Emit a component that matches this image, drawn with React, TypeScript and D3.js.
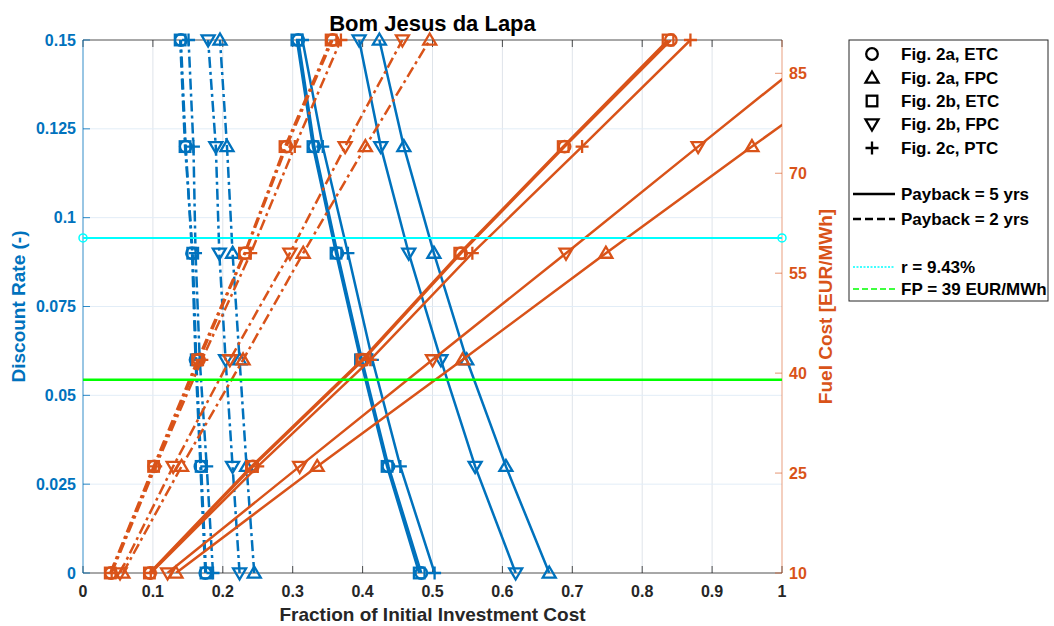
import * as d3 from "d3";

// discount rate (left axis) and fuel cost (right axis) levels
const discountRates = [0, 0.03, 0.06, 0.09, 0.12, 0.15];
const fuelCosts = [10, 26, 42, 58, 74, 90];

const seriesNames = ["Fig. 2a, ETC", "Fig. 2a, FPC", "Fig. 2b, ETC", "Fig. 2b, FPC", "Fig. 2c, PTC"];
const seriesMarkers = ["circle", "triUp", "square", "triDown", "plus"];

// fraction of investment cost vs discount rate
const rateP5_2aETC = [0.484, 0.437, 0.399, 0.364, 0.331, 0.308];
const rateP5_2aFPC = [0.667, 0.605, 0.549, 0.502, 0.459, 0.424];
const rateP5_2bETC = [0.481, 0.435, 0.397, 0.362, 0.329, 0.306];
const rateP5_2bFPC = [0.619, 0.561, 0.512, 0.466, 0.426, 0.395];
const rateP5_2cPTC = [0.503, 0.454, 0.414, 0.379, 0.343, 0.314];

const rateP2_2aETC = [0.175, 0.168, 0.161, 0.156, 0.147, 0.140];
const rateP2_2aFPC = [0.245, 0.234, 0.224, 0.214, 0.206, 0.196];
const rateP2_2bETC = [0.176, 0.169, 0.162, 0.157, 0.146, 0.139];
const rateP2_2bFPC = [0.224, 0.214, 0.204, 0.195, 0.190, 0.179];
const rateP2_2cPTC = [0.186, 0.177, 0.167, 0.161, 0.158, 0.151];

// fraction of investment cost vs fuel cost
const fuelP5_2aETC = [0.096, 0.243, 0.401, 0.541, 0.689, 0.841];
const fuelP5_2aFPC = [0.133, 0.335, 0.543, 0.748, 0.957, 1.17];
const fuelP5_2bETC = [0.095, 0.241, 0.399, 0.539, 0.687, 0.837];
const fuelP5_2bFPC = [0.121, 0.310, 0.500, 0.691, 0.880, 1.07];
const fuelP5_2cPTC = [0.097, 0.250, 0.411, 0.557, 0.714, 0.869];

const fuelP2_2aETC = [0.040, 0.102, 0.166, 0.232, 0.291, 0.357];
const fuelP2_2aFPC = [0.057, 0.141, 0.229, 0.315, 0.404, 0.496];
const fuelP2_2bETC = [0.039, 0.101, 0.164, 0.231, 0.289, 0.355];
const fuelP2_2bFPC = [0.053, 0.129, 0.210, 0.296, 0.375, 0.457];
const fuelP2_2cPTC = [0.041, 0.104, 0.170, 0.240, 0.303, 0.369];

const refRate = 0.0943;
const refFuel = 39;

const xTicks = d3.range(0, 1.0001, 0.1);
const leftTicks = [0, 0.025, 0.05, 0.075, 0.1, 0.125, 0.15];
const rightTicks = [10, 25, 40, 55, 70, 85];

const BLUE = "#0072BD";
const ORANGE = "#D95319";
const AXIS = "#262626";
const FONT = "'Liberation Sans', Arial, Helvetica, sans-serif";
const DASHDOT = "11,4,3,4";

const W = 1054;
const H = 626;
const L = 83, R = 782, T = 40, B = 573;

const x = d3.scaleLinear().domain([0, 1]).range([L, R]);
const yL = d3.scaleLinear().domain([0, 0.15]).range([B, T]);
const yR = d3.scaleLinear().domain([10, 90]).range([B, T]);

function Marker({ kind, cx, cy, color }: { kind: string; cx: number; cy: number; color: string }) {
  const s = 6.5;
  const common = { fill: "none", stroke: color, strokeWidth: 2.3 };
  if (kind === "circle") return <circle cx={cx} cy={cy} r={5.8} {...common} />;
  if (kind === "square") return <rect x={cx - 5.3} y={cy - 5.3} width={10.6} height={10.6} {...common} />;
  if (kind === "triUp")
    return <path d={`M${cx},${cy - s}L${cx + s},${cy + s * 0.7}L${cx - s},${cy + s * 0.7}Z`} {...common} />;
  if (kind === "triDown")
    return <path d={`M${cx},${cy + s}L${cx + s},${cy - s * 0.7}L${cx - s},${cy - s * 0.7}Z`} {...common} />;
  return <path d={`M${cx - s},${cy}H${cx + s}M${cx},${cy - s}V${cy + s}`} {...common} />;
}

const rateSeries = [
  { vals: rateP2_2aETC, p: 2, m: 0 }, { vals: rateP2_2aFPC, p: 2, m: 1 }, { vals: rateP2_2bETC, p: 2, m: 2 },
  { vals: rateP2_2bFPC, p: 2, m: 3 }, { vals: rateP2_2cPTC, p: 2, m: 4 },
  { vals: rateP5_2aETC, p: 5, m: 0 }, { vals: rateP5_2aFPC, p: 5, m: 1 }, { vals: rateP5_2bETC, p: 5, m: 2 },
  { vals: rateP5_2bFPC, p: 5, m: 3 }, { vals: rateP5_2cPTC, p: 5, m: 4 },
];
const fuelSeries = [
  { vals: fuelP2_2aETC, p: 2, m: 0 }, { vals: fuelP2_2aFPC, p: 2, m: 1 }, { vals: fuelP2_2bETC, p: 2, m: 2 },
  { vals: fuelP2_2bFPC, p: 2, m: 3 }, { vals: fuelP2_2cPTC, p: 2, m: 4 },
  { vals: fuelP5_2aETC, p: 5, m: 0 }, { vals: fuelP5_2aFPC, p: 5, m: 1 }, { vals: fuelP5_2bETC, p: 5, m: 2 },
  { vals: fuelP5_2bFPC, p: 5, m: 3 }, { vals: fuelP5_2cPTC, p: 5, m: 4 },
];

export default function App() {
  const line = d3.line<[number, number]>().x((d) => d[0]).y((d) => d[1]);

  const drawGroup = (series: typeof rateSeries, levels: number[], yScale: d3.ScaleLinear<number, number>, color: string, key: string) =>
    series.map((s, i) => {
      const pts: [number, number][] = s.vals.map((v, j) => [x(v), yScale(levels[j])]);
      return (
        <g key={`${key}${i}`}>
          <path
            d={line(pts) ?? ""}
            fill="none"
            stroke={color}
            strokeWidth={2.5}
            strokeDasharray={s.p === 2 ? DASHDOT : undefined}
            clipPath="url(#plotClip)"
          />
          {s.vals.map((v, j) =>
            v <= 1 ? <Marker key={j} kind={seriesMarkers[s.m]} cx={x(v)} cy={yScale(levels[j])} color={color} /> : null
          )}
        </g>
      );
    });

  const legendX = 849, legendY = 40, legendW = 199, legendH = 261;
  const markerRows = [54, 78, 101, 124, 148];

  return (
    <svg width={W} height={H} style={{ position: "absolute", left: 0, top: 0, background: "#fff" }} fontFamily={FONT}>
      <defs>
        <clipPath id="plotClip">
          <rect x={L} y={T} width={R - L} height={B - T} />
        </clipPath>
      </defs>
      <rect x={0} y={0} width={W} height={H} fill="#fff" />

      {/* grid */}
      {xTicks.slice(1, -1).map((t) => (
        <line key={`gx${t}`} x1={x(t)} x2={x(t)} y1={T} y2={B} stroke="#dfe4ea" strokeWidth={1} />
      ))}
      {leftTicks.slice(1, -1).map((t) => (
        <line key={`gy${t}`} x1={L} x2={R} y1={yL(t)} y2={yL(t)} stroke="#e2edf7" strokeWidth={1} />
      ))}

      {/* axes */}
      <line x1={L} x2={R} y1={T} y2={T} stroke={AXIS} strokeWidth={1} opacity={0.8} />
      <line x1={L} x2={R} y1={B} y2={B} stroke={AXIS} strokeWidth={1} opacity={0.8} />
      {xTicks.map((t) => (
        <g key={`xt${t}`}>
          <line x1={x(t)} x2={x(t)} y1={B} y2={B - 7} stroke={AXIS} opacity={0.8} />
          <line x1={x(t)} x2={x(t)} y1={T} y2={T + 7} stroke={AXIS} opacity={0.8} />
          <text x={x(t)} y={597} textAnchor="middle" fontSize={16} fontWeight="bold" fill={AXIS}>
            {d3.format("~g")(+t.toFixed(1))}
          </text>
        </g>
      ))}
      <line x1={L} x2={L} y1={T} y2={B} stroke={BLUE} strokeWidth={1} opacity={0.8} />
      {leftTicks.map((t) => (
        <g key={`yl${t}`}>
          <line x1={L} x2={L + 7} y1={yL(t)} y2={yL(t)} stroke={BLUE} opacity={0.8} />
          <text x={76} y={yL(t)} dy="0.35em" textAnchor="end" fontSize={16} fontWeight="bold" fill={BLUE}>
            {String(t)}
          </text>
        </g>
      ))}
      <line x1={R} x2={R} y1={T} y2={B} stroke={ORANGE} strokeWidth={1} opacity={0.55} />
      {rightTicks.map((t) => (
        <g key={`yr${t}`}>
          <line x1={R} x2={R - 7} y1={yR(t)} y2={yR(t)} stroke={ORANGE} opacity={0.6} />
          <text x={789} y={yR(t)} dy="0.35em" textAnchor="start" fontSize={16} fontWeight="bold" fill={ORANGE}>
            {String(t)}
          </text>
        </g>
      ))}

      {/* data */}
      {drawGroup(rateSeries, discountRates, yL, BLUE, "r")}
      {drawGroup(fuelSeries, fuelCosts, yR, ORANGE, "f")}

      {/* reference lines */}
      <line x1={x(0)} x2={x(1)} y1={yL(refRate)} y2={yL(refRate)} stroke="#00FFFF" strokeWidth={2} />
      <circle cx={x(0)} cy={yL(refRate)} r={4} fill="none" stroke="#00FFFF" strokeWidth={1.5} />
      <circle cx={x(1)} cy={yL(refRate)} r={4} fill="none" stroke="#00FFFF" strokeWidth={1.5} />
      <line x1={x(0)} x2={x(1)} y1={yR(refFuel)} y2={yR(refFuel)} stroke="#00FF00" strokeWidth={2.5} />

      {/* titles */}
      <text x={(L + R) / 2} y={31} textAnchor="middle" fontSize={22} fontWeight="bold" fill="#000">
        Bom Jesus da Lapa
      </text>
      <text x={(L + R) / 2} y={621} textAnchor="middle" fontSize={19} fontWeight="bold" fill={AXIS}>
        Fraction of Initial Investment Cost
      </text>
      <text transform={`translate(25,${(T + B) / 2}) rotate(-90)`} textAnchor="middle" fontSize={19} fontWeight="bold" fill={BLUE}>
        Discount Rate (-)
      </text>
      <text transform={`translate(832,${(T + B) / 2}) rotate(-90)`} textAnchor="middle" fontSize={19} fontWeight="bold" fill={ORANGE}>
        Fuel Cost [EUR/MWh]
      </text>

      {/* legend */}
      <rect x={legendX} y={legendY} width={legendW} height={legendH} fill="#fff" stroke={AXIS} strokeWidth={1} />
      {seriesNames.map((name, i) => (
        <g key={name}>
          <Marker kind={seriesMarkers[i]} cx={872} cy={markerRows[i]} color="#000" />
          <text x={901} y={markerRows[i]} dy="0.35em" fontSize={17} fontWeight="bold" fill="#000">
            {name}
          </text>
        </g>
      ))}
      <line x1={853} x2={895} y1={194} y2={194} stroke="#000" strokeWidth={2.5} />
      <text x={901} y={194} dy="0.35em" fontSize={17} fontWeight="bold">Payback = 5 yrs</text>
      <line x1={853} x2={895} y1={219} y2={219} stroke="#000" strokeWidth={2.5} strokeDasharray="8,4" />
      <text x={901} y={219} dy="0.35em" fontSize={17} fontWeight="bold">Payback = 2 yrs</text>
      <line x1={853} x2={895} y1={267} y2={267} stroke="#00FFFF" strokeWidth={1.5} strokeDasharray="2,1.5" />
      <text x={901} y={267} dy="0.35em" fontSize={17} fontWeight="bold">r = 9.43%</text>
      <line x1={853} x2={895} y1={289} y2={289} stroke="#00FF00" strokeWidth={1.5} strokeDasharray="6,3" />
      <text x={901} y={289} dy="0.35em" fontSize={17} fontWeight="bold">FP = 39 EUR/MWh</text>
    </svg>
  );
}
